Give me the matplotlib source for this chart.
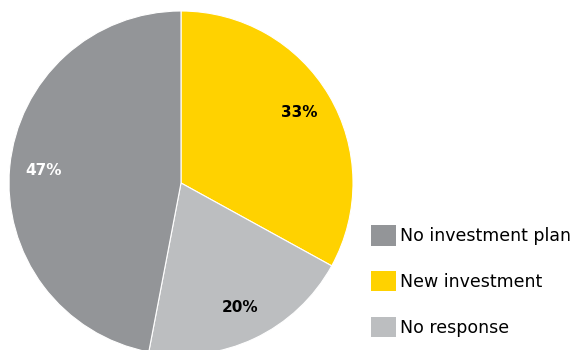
import matplotlib.pyplot as plt

labels = ["New investment", "No response", "No investment plan"]
values = [33, 20, 47]
colors = ["#FFD200", "#BCBEC0", "#939598"]
pct_colors = ["black", "black", "white"]
legend_order = [2, 0, 1]

fig = plt.figure(figsize=(5.73, 3.5), dpi=100)
ax = fig.add_axes([9 / 573, -5 / 350, 344 / 573, 344 / 350])

wedges, texts, autotexts = ax.pie(values, colors=colors, startangle=90, counterclock=False,
                                  autopct="%d%%", pctdistance=0.8, radius=1,
                                  wedgeprops=dict(linewidth=0.8, edgecolor="white"))
for t, c in zip(autotexts, pct_colors):
    t.set_color(c)
    t.set_fontsize(11)
    t.set_fontweight("bold")
ax.set_xlim(-1, 1)
ax.set_ylim(-1, 1)
ax.set_aspect("equal")

leg = fig.legend([wedges[i] for i in legend_order], [labels[i] for i in legend_order],
                 loc="upper left", bbox_to_anchor=(364 / 573, 1 - 218 / 350),
                 frameon=False, fontsize=12.5, handlelength=1.45, handleheight=1.45,
                 handletextpad=0.25, labelspacing=1.45, borderaxespad=0)
for h in leg.legend_handles:
    h.set_edgecolor("none")

fig.savefig("out.png", dpi=100)
